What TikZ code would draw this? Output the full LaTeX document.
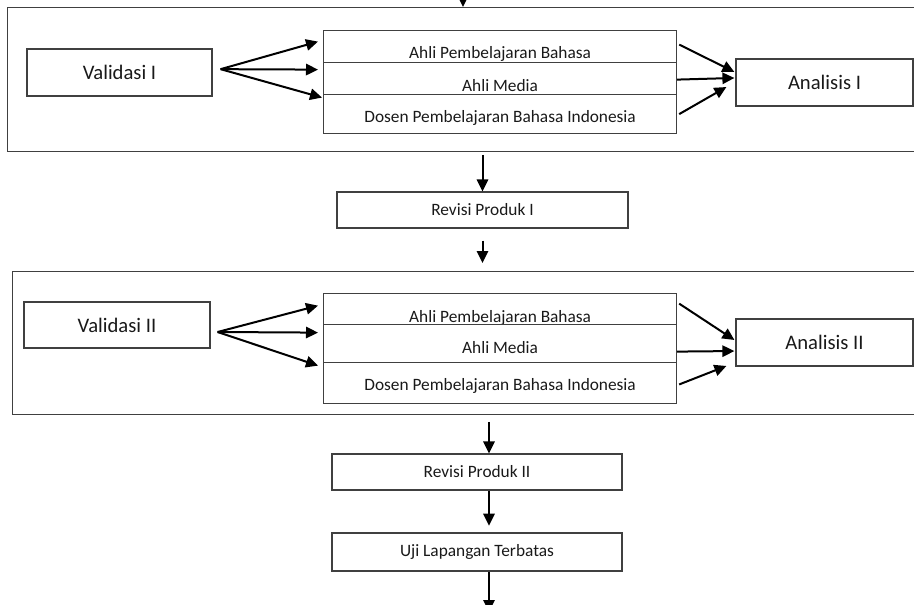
\documentclass[tikz,border=0pt]{standalone}
\usepackage{fontspec}
\setmainfont{Carlito}
\usetikzlibrary{arrows.meta}

\tikzset{
  frame/.style={draw=black!75, line width=0.9pt, anchor=north west, inner sep=0pt, minimum width=692.25pt},
  box/.style={draw=black!75, line width=0.9pt, text=black!90, inner sep=0pt},
  bigbox/.style={box, font=\fontsize{15.5}{18}\selectfont},
  smallbox/.style={box, font=\fontsize{13}{15}\selectfont},
  cell/.style={smallbox, anchor=north west, minimum width=264.75pt},
  arr/.style={-{Triangle[length=9pt,width=8.5pt]}, line width=1.5pt}
}

\begin{document}
\begin{tikzpicture}[x=0.75pt,y=-0.75pt]
\useasboundingbox (0,0) rectangle (914,604);

\node[frame, minimum height=108pt]    (frame1) at (7,7)   {};
\node[frame, minimum height=107.25pt] (frame2) at (12,271) {};

\coordinate (in) at (463,-12);
\draw[arr] (in) -- (in |- frame1.north);

% validasi I
\node[bigbox, minimum width=138.75pt, minimum height=35.25pt] (val1) at (119.5,72.5) {Validasi I};
\node[bigbox, minimum width=132.75pt, minimum height=35.25pt] (ana1) at (824.5,82.5) {Analisis I};

\node[cell, text height=21pt,    text depth=3pt]    (ahli1)  at (323,30) {Ahli Pembelajaran Bahasa};
\node[cell, text height=21.75pt, text depth=2.25pt] (media1) at (323,62) {Ahli Media};
\node[cell, text height=21pt,    text depth=8.25pt] (dosen1) at (323,94) {Dosen Pembelajaran Bahasa Indonesia};

\draw[arr] ([xshift=6pt,yshift=2.5pt]val1.east) -- ([xshift=-3.75pt,yshift=3.75pt]ahli1.west);
\draw[arr] ([xshift=6pt,yshift=2.5pt]val1.east) -- ([xshift=-3.75pt,yshift=6.75pt]media1.west);
\draw[arr] ([xshift=6pt,yshift=2.5pt]val1.east) -- ([xshift=-0.75pt,yshift=12.4pt]dosen1.west);

\draw[arr] ([xshift=1.5pt,yshift=1.5pt]ahli1.east) -- ([xshift=-0.75pt,yshift=7.9pt]ana1.west);
\draw[arr] ([yshift=-0.75pt]media1.east) -- ([xshift=-0.75pt,yshift=3.4pt]ana1.west);
\draw[arr] ([xshift=1.5pt]dosen1.east) -- ([xshift=-6.75pt,yshift=-3.4pt]ana1.west);

% revisi I
\node[smallbox, minimum width=218.25pt, minimum height=27pt] (rev1) at (482.5,210) {Revisi Produk I};
\draw[arr, shorten <=2pt] (rev1.north |- frame1.south) -- (rev1.north);
\draw[arr, shorten <=9pt, shorten >=6pt] (rev1.south) -- (rev1.south |- frame2.north);

% validasi II
\node[bigbox, minimum width=139.5pt, minimum height=34.5pt]  (val2) at (117,325)   {Validasi II};
\node[bigbox, minimum width=132.75pt, minimum height=35.25pt] (ana2) at (824.5,342.5) {Analisis II};

\node[cell, text height=21.75pt, text depth=1.5pt]  (ahli2)  at (323,293) {Ahli Pembelajaran Bahasa};
\node[cell, text height=21.75pt, text depth=6.75pt] (media2) at (323,324) {Ahli Media};
\node[cell, text height=21pt,    text depth=9.75pt] (dosen2) at (323,362) {Dosen Pembelajaran Bahasa Indonesia};

\draw[arr] ([xshift=5.25pt,yshift=-5.25pt]val2.east) -- ([xshift=-3.75pt,yshift=2.6pt]ahli2.west);
\draw[arr] ([xshift=5.25pt,yshift=-5.25pt]val2.east) -- ([xshift=-3.75pt,yshift=8.25pt]media2.west);
\draw[arr] ([xshift=5.25pt,yshift=-5.25pt]val2.east) -- ([xshift=-3.75pt,yshift=13.1pt]dosen2.west);

\draw[arr] ([xshift=1.5pt,yshift=4.1pt]ahli2.east) -- ([xshift=-0.75pt,yshift=1.9pt]ana2.west);
\draw[arr] ([yshift=-6pt]media2.east) -- ([xshift=-0.75pt,yshift=-6.4pt]ana2.west);
\draw[arr] ([xshift=1.5pt,yshift=-1pt]dosen2.east) -- ([xshift=-6.75pt,yshift=-17.6pt]ana2.west);

% revisi II, uji lapangan
\node[smallbox, minimum width=217.5pt, minimum height=27pt]   (rev2) at (477,472) {Revisi Produk II};
\node[smallbox, minimum width=217.5pt, minimum height=28.5pt] (uji)  at (477,552) {Uji Lapangan Terbatas};

\draw[arr, shorten <=5pt] ([xshift=9pt]rev2.north |- frame2.south) -- ([xshift=9pt]rev2.north);
\draw[arr, shorten >=5pt] ([xshift=9pt]rev2.south) -- ([xshift=9pt]uji.north);
\coordinate (out) at (489,612);
\draw[arr] ([xshift=9pt]uji.south) -- (out);

\end{tikzpicture}
\end{document}
